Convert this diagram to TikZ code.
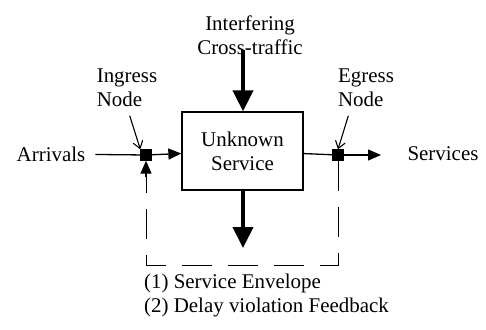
\documentclass[tikz,border=0pt]{standalone}
\usepackage{fontspec}
\setmainfont{Liberation Serif}
\usetikzlibrary{arrows.meta, positioning}
\tikzset{
    base/.style={draw, rectangle, line width=1.3bp, minimum width=121bp, minimum height=78bp, align=center},
    label/.style={align=left, inner sep=0pt},
    sq/.style={draw, fill=black, rectangle, minimum size=11bp, inner sep=0pt},
    arrow/.style={line width=1.3bp, -{Triangle[length=13bp, width=11bp]}},
    fat/.style={line width=4bp, -{Triangle[length=21bp, width=20bp]}},
    pointer/.style={line width=1.1bp, -{Straight Barb[length=7bp, width=10bp]}},
    fback/.style={line width=1bp, dash pattern=on 30bp off 16bp}
}

\begin{document}
\begin{tikzpicture}[x=1bp, y=1bp, font=\fontsize{21}{24}\selectfont]
\useasboundingbox (0,0) rectangle (486,329);
\node[base] (svc) at (242.5,178) {Unknown\\Service};
\node[sq] (ing) at (146,174) {};
\node[sq] (egr) at (338,174) {};
\node[label] (arr) at (51,175) {Arrivals};
\node[label] (srv) at (443,175) {Services};
\node[label, align=center] (cross) at (250,294) {Interfering\\Cross-traffic};
\node[label] (ingl) at (127,241) {Ingress\\Node};
\node[label] (egrl) at (366,241) {Egress\\Node};
\node[label, anchor=north west] (notes) at (144,55) {(1) Service Envelope\\(2) Delay violation Feedback};
\coordinate (out) at (381,174);
\coordinate (xin) at (243,279);
\coordinate (xout) at (243,81);
\coordinate (fb) at (338,64);
% main flow
\draw[line width=1.3bp, shorten <=10bp] (arr) -- (ing);
\draw[arrow] (ing) -- (svc);
\draw[line width=1.3bp] (svc) -- (egr);
\draw[arrow] (egr) -- (out);
% cross-traffic
\draw[fat] (xin) -- (xin |- svc.north);
\draw[fat] (xout |- svc.south) -- (xout);
% node labels
\draw[pointer, shorten <=9bp] (ingl.south) -- (ing.north west);
\draw[pointer, shorten <=9bp] ([xshift=-15bp]egrl.south) -- (egr.north);
% feedback
\draw[fback] (egr) -- (fb) -| (ing);
\draw[arrow] ([yshift=-16bp]ing.south) -- (ing.south);
\end{tikzpicture}
\end{document}
